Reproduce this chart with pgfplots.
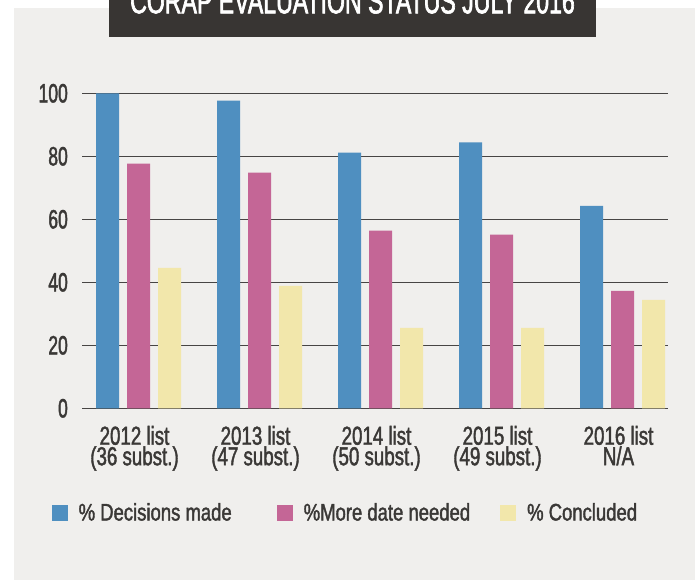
\documentclass[border=0pt]{standalone}
\usepackage{fontspec}
\setmainfont{Liberation Sans}[FakeStretch=0.72, FakeBold=1.6]
\newfontfamily\tickfont{Liberation Sans}[FakeStretch=0.66, FakeBold=1.6]
\newfontfamily\legfont{Liberation Sans}[FakeStretch=0.77, FakeBold=1.6]
\newfontfamily\titlefont{Liberation Sans}[FakeStretch=0.66, FakeBold=1.8]
\usepackage{pgfplots}
\pgfplotsset{compat=1.18}
\definecolor{bgpanel}{HTML}{F0EFED}
\definecolor{titlebox}{HTML}{383533}
\definecolor{cblue}{HTML}{4F8FC0}
\definecolor{cpink}{HTML}{C46696}
\definecolor{cyellow}{HTML}{F2E7AB}
\definecolor{txt}{HTML}{3A3836}
\definecolor{gridc}{HTML}{474544}
\begin{document}
\begin{tikzpicture}
\useasboundingbox (0pt,0pt) rectangle (700pt,-580pt);
\fill[white] (0pt,0pt) rectangle (700pt,-580pt);
\fill[bgpanel] (14pt,-8.5pt) rectangle (695pt,-580pt);
\fill[titlebox] (109pt,5pt) rectangle (596pt,-36.7pt);
\node[anchor=base, text=white, font=\titlefont\fontsize{35}{40}\selectfont, inner sep=0pt] at (352.5pt,-13.3pt) {CORAP EVALUATION STATUS JULY 2016};
\begin{axis}[
  at={(82pt,-408.3pt)}, anchor=south west,
  scale only axis, width=586pt, height=315pt,
  ymin=0, ymax=100, xmin=-0.467, xmax=4.376,
  ybar=8pt, bar width=23pt,
  axis line style={draw=none},
  major tick length=0pt,
  ytick={0,20,40,60,80,100},
  ymajorgrids,
  major grid style={draw=gridc, line width=1.2pt},
  xtick={0,1,2,3,4},
  xticklabels={{2012 list\\(36 subst.)},{2013 list\\(47 subst.)},{2014 list\\(50 subst.)},{2015 list\\(49 subst.)},{2016 list\\N/A}},
  /pgf/number format/assume math mode=true,
  yticklabel style={font=\tickfont\fontsize{26.5}{30}\selectfont, text=txt, inner sep=0pt, xshift=-14pt},
  xticklabel style={font=\fontsize{26}{20.5}\selectfont, text=txt, align=center, inner sep=0pt, anchor=north, yshift=-17.4pt, xshift=-4pt},
  legend columns=3,
  legend style={draw=none, fill=none, inner sep=0pt, outer sep=0pt, anchor=west, at={(-0.0517,-0.331)},
    font=\legfont\fontsize{24}{28}\selectfont, text=txt,
    /tikz/every odd column/.append style={column sep=9pt},
    /tikz/column 2/.style={column sep=43pt},
    /tikz/column 4/.style={column sep=28pt}},
]
\addplot[fill=cblue, draw=none, legend image code/.code={\fill[cblue] (0pt,-8pt) rectangle (16pt,8pt);}] coordinates {(0,100) (1,97.7) (2,81.2) (3,84.4) (4,64.3)};
\addplot[fill=cpink, draw=none, legend image code/.code={\fill[cpink] (0pt,-8pt) rectangle (16pt,8pt);}] coordinates {(0,77.7) (1,74.8) (2,56.4) (3,55.1) (4,37.3)};
\addplot[fill=cyellow, draw=none, legend image code/.code={\fill[cyellow] (0pt,-8pt) rectangle (16pt,8pt);}] coordinates {(0,44.6) (1,38.9) (2,25.5) (3,25.5) (4,34.4)};
\legend{\% Decisions made, \%More date needed, \% Concluded}
\end{axis}
\end{tikzpicture}
\end{document}
